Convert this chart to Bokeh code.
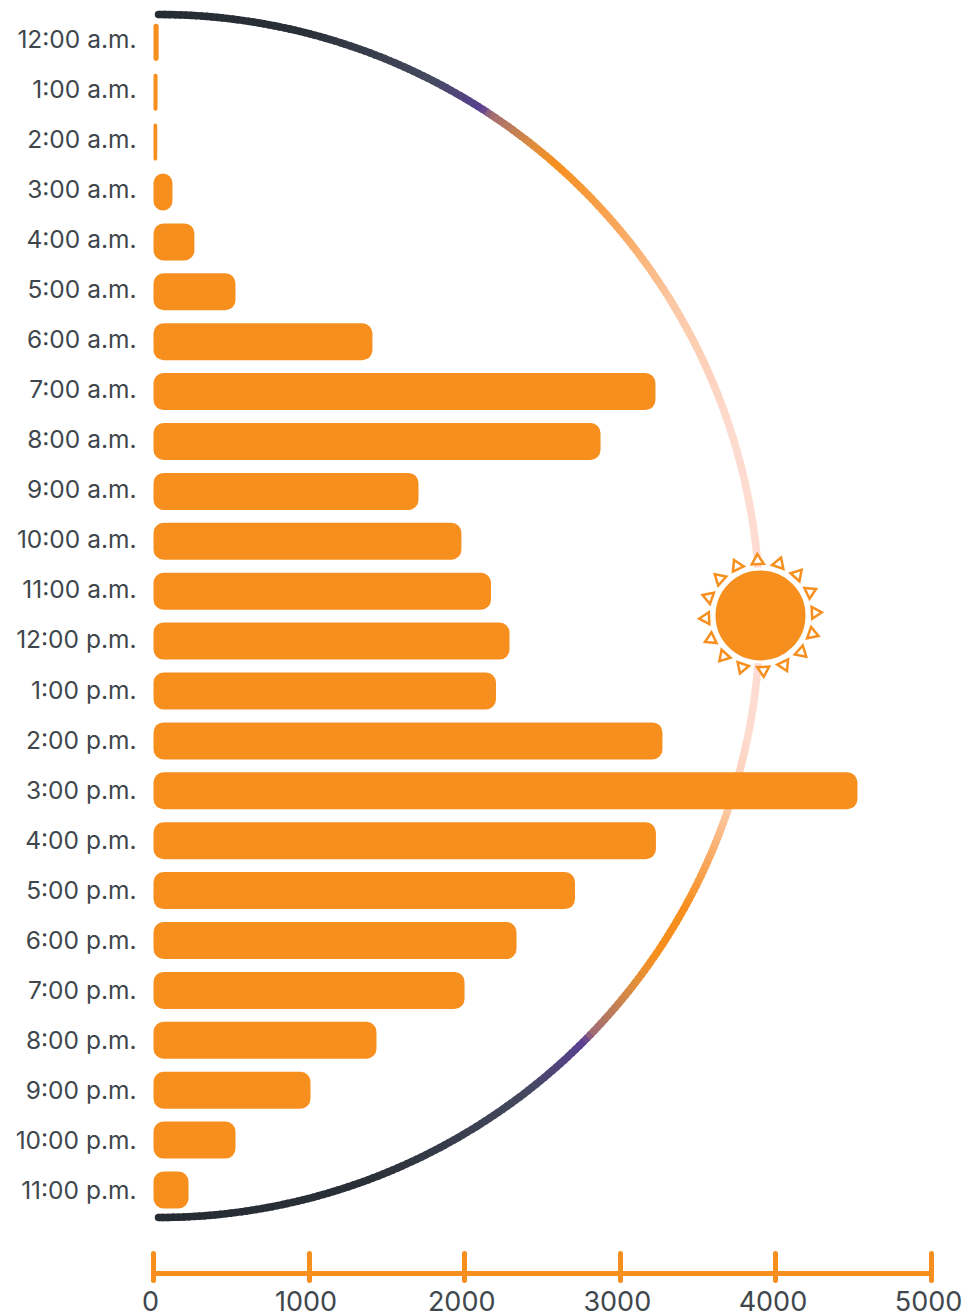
import math
from bokeh.core.properties import value
from bokeh.embed import file_html
from bokeh.models import CustomLabelingPolicy, FixedTicker, LinearAxis, Range1d
from bokeh.plotting import figure
from bokeh.resources import INLINE

hours = ["12:00 a.m.", "1:00 a.m.", "2:00 a.m.", "3:00 a.m.", "4:00 a.m.", "5:00 a.m.",
         "6:00 a.m.", "7:00 a.m.", "8:00 a.m.", "9:00 a.m.", "10:00 a.m.", "11:00 a.m.",
         "12:00 p.m.", "1:00 p.m.", "2:00 p.m.", "3:00 p.m.", "4:00 p.m.", "5:00 p.m.",
         "6:00 p.m.", "7:00 p.m.", "8:00 p.m.", "9:00 p.m.", "10:00 p.m.", "11:00 p.m."]
counts = [33, 26, 24, 122, 263, 527, 1407, 3226, 2873, 1703, 1979, 2169,
          2288, 2201, 3271, 4524, 3229, 2709, 2333, 1999, 1433, 1009, 527, 225]
count_ticks = [0, 1000, 2000, 3000, 4000, 5000]

ORANGE = "#F78F1E"
INK = "#40474C"
FONT = "Inter"

# colour of the day arc by sweep position, midnight (0) to noon (1); morning and
# evening change at different places
morning_stops = [(0.0, "#262C33"), (0.15, "#2A3037"), (0.30, "#454A60"), (0.362, "#5B3F93"),
                 (0.372, "#A06C74"), (0.43, "#E08E3A"), (0.46, "#F78F1E"), (0.55, "#F9A65A"),
                 (0.65, "#FCC8A4"), (0.80, "#FEDBCF"), (1.0, "#FEDDD3")]
evening_stops = [(0.0, "#262C33"), (0.22, "#2A3037"), (0.42, "#454A60"), (0.50, "#5B3F93"),
                 (0.512, "#A06C74"), (0.58, "#E08E3A"), (0.62, "#F78F1E"), (0.68, "#F78F1E"),
                 (0.73, "#F9A65A"), (0.79, "#FCC8A4"), (0.87, "#FEDBCF"), (1.0, "#FEDDD3")]

W, H = 977, 1316
ZERO_X, BOTTOM = 153, 43
PX_PER_COUNT = 0.1556
ROW_PITCH, FIRST_ROW = 49.9, 41.8
LABEL_PITCH, FIRST_LABEL = 50.04, 38.5
frame_h = H - BOTTOM


def rgb(c):
    return [int(c[i:i + 2], 16) for i in (1, 3, 5)]


def sky_colour(stops, t):
    for (t0, c0), (t1, c1) in zip(stops, stops[1:]):
        if t <= t1:
            f = (t - t0) / (t1 - t0)
            a, b = rgb(c0), rgb(c1)
            return "#%02x%02x%02x" % tuple(round(u + (v - u) * f) for u, v in zip(a, b))
    return stops[-1][1]


x_start = -ZERO_X / PX_PER_COUNT
x_end = (W - ZERO_X) / PX_PER_COUNT
p = figure(width=W, height=H, output_backend="svg", toolbar_location=None,
           x_range=Range1d(x_start, x_end),
           y_range=Range1d((frame_h - FIRST_ROW) / ROW_PITCH, -FIRST_ROW / ROW_PITCH),
           x_axis_location=None, y_axis_location=None,
           min_border_left=0, min_border_right=0, min_border_top=0, min_border_bottom=BOTTOM,
           background_fill_color="white", border_fill_color="white", outline_line_color=None)
p.grid.visible = False
p.extra_x_ranges["px"] = Range1d(0, W)
p.extra_y_ranges["px"] = Range1d(frame_h, 0)
# the count labels sit a little left of their ticks
LABEL_NUDGE = 3 / PX_PER_COUNT
p.extra_x_ranges["count_labels"] = Range1d(x_start + LABEL_NUDGE, x_end + LABEL_NUDGE)

# day arc, drawn as short overlapping pieces so the colour can shift along it
CX, CY, R = 158.0, 615.5, 601.5
ARC_W = 7.5
N = 360
xs, ys, cols = [], [], []
for i in range(N):
    a0 = -math.pi / 2 + math.pi * i / N
    a1 = min(-math.pi / 2 + math.pi * (i + 1.4) / N, math.pi / 2)
    xs.append([CX + R * math.cos(a0), CX + R * math.cos(a1)])
    ys.append([CY + R * math.sin(a0), CY + R * math.sin(a1)])
    pos = (i + 0.5) / N
    if pos < 0.5:
        cols.append(sky_colour(morning_stops, 2 * pos))
    else:
        cols.append(sky_colour(evening_stops, 2 * (1 - pos)))
p.multi_line(xs, ys, line_color=cols, line_width=ARC_W, line_cap="butt",
             x_range_name="px", y_range_name="px")
p.scatter([CX, CX], [CY - R, CY + R], size=ARC_W, marker="circle", fill_color=morning_stops[0][1],
          line_color=None, x_range_name="px", y_range_name="px")

# hourly bars
rows = list(range(len(hours)))
p.hbar(y=rows, left=0, right=counts, height=37 / ROW_PITCH, fill_color=ORANGE,
       line_color=None, border_radius=10)

# sun: white-ringed disc with a crown of outlined triangles
SX, SY, SR = 760.0, 615.0, 45.0
p.scatter([SX], [SY], size=2 * SR + 3, marker="circle", fill_color=ORANGE, line_color="white",
          line_width=3, x_range_name="px", y_range_name="px")
tx, ty = [], []
for k in range(16):
    a = math.radians(-3 + 22.5 * k)
    ux, uy = math.sin(a), -math.cos(a)
    vx, vy = -uy, ux
    tx.append([SX + 61.5 * ux, SX + 51.5 * ux + 6 * vx, SX + 51.5 * ux - 6 * vx])
    ty.append([SY + 61.5 * uy, SY + 51.5 * uy + 6 * vy, SY + 51.5 * uy - 6 * vy])
p.patches(tx, ty, fill_color="white", line_color=ORANGE, line_width=2.5, line_join="miter",
          x_range_name="px", y_range_name="px")

# hour labels, right-aligned left of the bars
p.text(x=[136] * len(hours), y=[FIRST_LABEL + LABEL_PITCH * i for i in rows], text=hours,
       text_align="right", text_baseline="middle", text_color=INK,
       text_font=value(FONT), text_font_size="24.5px",
       x_range_name="px", y_range_name="px")

# count axis with long round-capped ticks; its labels live on a second axis below
xa = LinearAxis(ticker=FixedTicker(ticks=count_ticks), bounds=(0, 5000))
xa.axis_line_color = ORANGE
xa.axis_line_width = 5
xa.major_tick_line_color = ORANGE
xa.major_tick_line_width = 5
xa.major_tick_line_cap = "round"
xa.major_tick_in = 20
xa.major_tick_out = 7
xa.minor_tick_line_color = None
xa.major_label_policy = CustomLabelingPolicy(code="return []")
xa.major_label_text_font_size = "1px"
xa.major_label_standoff = 0
p.add_layout(xa, "below")

xl = LinearAxis(ticker=FixedTicker(ticks=count_ticks), x_range_name="count_labels")
xl.axis_line_color = None
xl.major_tick_line_color = None
xl.minor_tick_line_color = None
xl.major_tick_in = 0
xl.major_tick_out = 0
xl.major_label_standoff = 6
xl.major_label_text_font = FONT
xl.major_label_text_font_size = "27px"
xl.major_label_text_color = INK
p.add_layout(xl, "below")

open("out.html", "w").write(file_html(p, INLINE))
